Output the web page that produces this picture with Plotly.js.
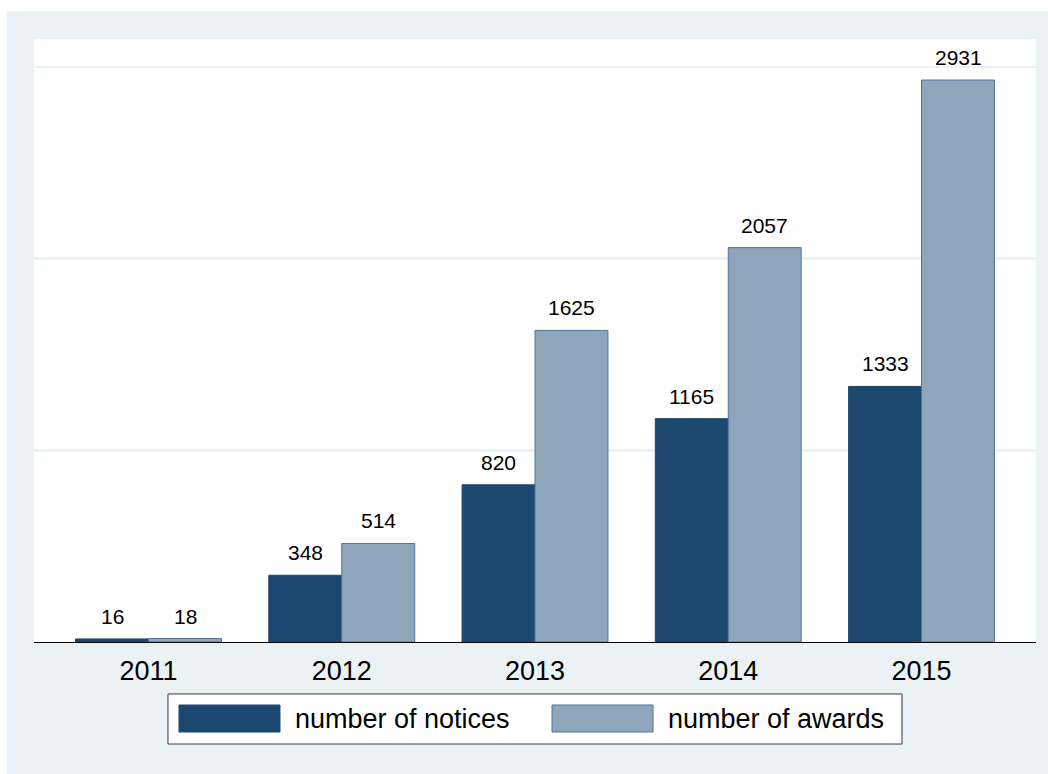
<!DOCTYPE html>
<html>
<head>
<meta charset="utf-8">
<script src="https://cdn.plot.ly/plotly-3.0.1.min.js"></script>
<style>
html,body{margin:0;padding:0;background:#ffffff;}
#chart{position:absolute;left:7px;top:11px;width:1041px;height:763px;}
</style>
</head>
<body>
<div id="chart"></div>
<script>
const years = ['2011', '2012', '2013', '2014', '2015'];
const notices = [16, 348, 820, 1165, 1333];
const awards = [18, 514, 1625, 2057, 2931];
const seriesNames = ['number of notices', 'number of awards'];
const seriesFill = ['#1c4870', '#8fa5ba'];
const seriesLine = ['#1c4870', '#50749a'];

const FONT = 'Liberation Sans, Arial, sans-serif';

const traces = [
  {type: 'bar', x: years, y: notices, name: seriesNames[0],
   marker: {color: seriesFill[0], line: {color: seriesLine[0], width: 1}}, hoverinfo: 'x+y'},
  {type: 'bar', x: years, y: awards, name: seriesNames[1],
   marker: {color: seriesFill[1], line: {color: seriesLine[1], width: 1}}, hoverinfo: 'x+y'}
];

const annotations = [];
[notices, awards].forEach((vals, si) => {
  vals.forEach((v, i) => {
    annotations.push({
      x: i, y: v, xref: 'x', yref: 'y',
      xshift: si === 0 ? -36.5 : 36.5, yshift: 9,
      yanchor: 'bottom', xanchor: 'center',
      text: String(v), showarrow: false,
      font: {family: FONT, size: 21, color: '#000'}
    });
  });
});

// custom legend (paper coords)
const shapes = [
  {type: 'rect', xref: 'paper', yref: 'paper', x0: 0.1337, x1: 0.8663, y0: -0.0862, y1: -0.1692,
   fillcolor: '#ffffff', line: {color: '#3a3a3a', width: 1}},
  {type: 'rect', xref: 'paper', yref: 'paper', x0: 0.1447, x1: 0.2455, y0: -0.1045, y1: -0.1493,
   fillcolor: seriesFill[0], line: {color: seriesLine[0], width: 1}},
  {type: 'rect', xref: 'paper', yref: 'paper', x0: 0.5170, x1: 0.6178, y0: -0.1045, y1: -0.1493,
   fillcolor: seriesFill[1], line: {color: seriesLine[1], width: 1}}
];
annotations.push(
  {x: 0.2585, y: -0.1277, xref: 'paper', yref: 'paper', xanchor: 'left', yanchor: 'middle',
   text: seriesNames[0], showarrow: false, font: {family: FONT, size: 27, color: '#000'}},
  {x: 0.6307, y: -0.1277, xref: 'paper', yref: 'paper', xanchor: 'left', yanchor: 'middle',
   text: seriesNames[1], showarrow: false, font: {family: FONT, size: 27, color: '#000'}}
);

const layout = {
  width: 1041, height: 763,
  paper_bgcolor: '#eaf2f3', plot_bgcolor: '#ffffff',
  margin: {l: 27, r: 12, t: 28, b: 132},
  showlegend: false,
  barmode: 'group', bargap: 0.245, bargroupgap: 0,
  font: {family: FONT, color: '#000'},
  xaxis: {
    type: 'category', range: [-0.5925, 4.5925],
    showline: true, linecolor: '#000', linewidth: 1,
    ticks: '', showgrid: false, zeroline: false,
    tickfont: {family: FONT, size: 27, color: '#000'},
    ticklabelstandoff: 5
  },
  yaxis: {
    range: [0, 3145], tickvals: [1000, 2000, 3000],
    showticklabels: false, ticks: '',
    showgrid: true, gridcolor: '#eaf2f3', gridwidth: 2.5,
    zeroline: false, showline: false
  },
  shapes: shapes,
  annotations: annotations
};

Plotly.newPlot('chart', traces, layout, {displayModeBar: false, staticPlot: true});
</script>
</body>
</html>
